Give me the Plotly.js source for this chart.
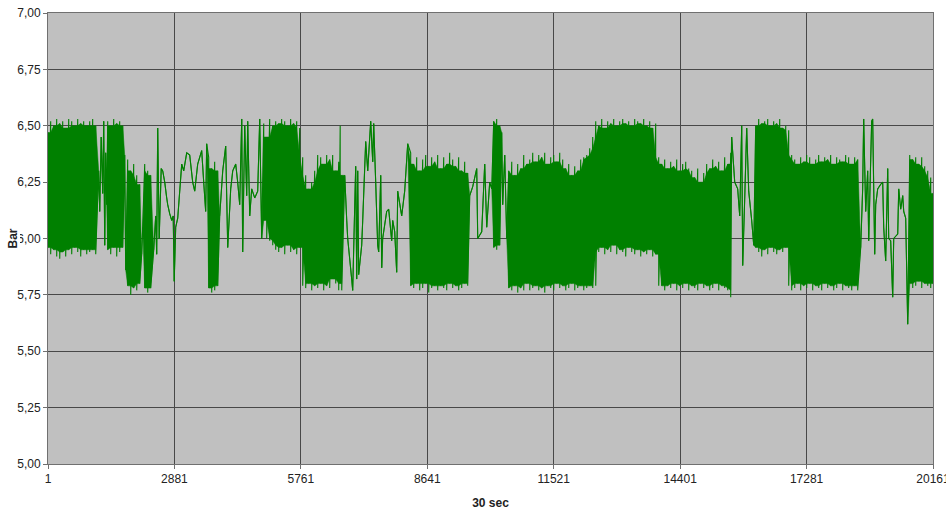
<!DOCTYPE html>
<html>
<head>
<meta charset="utf-8">
<script src="https://cdn.plot.ly/plotly-3.0.1.min.js"></script>
<style>html,body{margin:0;padding:0;background:#fff;}#chart{width:946px;height:514px;}</style>
</head>
<body>
<div id="chart"></div>
<script>
// Dense stretches: per-column maximum and minimum pressure (Bar)
const denseSample = [
  1,62,131,199,268,336,404,473,541,609,678,746,814,883,951,1019,1088,
  1361,1429,1498,1566,1634,1703,
  1816,1885,1953,2022,2090,
  2204,2272,2340,
  3662,3730,3798,3867,
  4915,4983,5051,5120,5188,5256,5324,5393,5461,5529,5598,5666,5735,
  5803,5871,5940,6008,6076,6145,6213,6281,6350,6418,6486,6555,6623,6657,6692,
  8263,8331,8400,8468,8536,8605,8673,8741,8810,8878,8946,9015,9083,9151,9220,9288,9356,9425,9493,9561,
  10154,10222,10291,
  10496,10565,10633,10701,10770,10838,10906,10975,11043,11111,11180,11248,11316,11385,11453,11521,11590,11658,11726,11795,11863,11931,12000,12068,12136,12205,12273,12341,
  12410,12478,12546,12615,12683,12751,12820,12888,12956,13024,13093,13161,13229,13298,13366,13434,13503,13571,13639,13708,13776,13844,
  13913,13981,14049,14118,14186,14254,14323,14391,14459,14528,14596,14664,14733,14801,14869,14938,15006,15074,15143,15211,15279,15348,15416,15484,15553,
  16122,16191,16259,16327,16396,16464,16532,16601,16669,16737,16806,
  16874,16942,17011,17079,17147,17216,17284,17352,17420,17489,17557,17625,17694,17762,17830,17899,17967,18035,18104,18172,18240,18309,18377,18445,
  19631,19699,19767,19836,19904,19972,20041,20109,20161
];
const denseMax = [
  6.47,6.52,6.50,6.53,6.51,6.52,6.49,6.53,6.52,6.50,6.53,6.51,6.52,6.50,6.52,6.53,6.50,
  6.52,6.50,6.53,6.51,6.52,6.50,
  6.35,6.30,6.33,6.28,6.24,
  6.33,6.30,6.28,
  6.36,6.31,6.34,6.30,
  6.51,6.45,6.53,6.50,6.52,6.51,6.53,6.52,6.50,6.53,6.51,6.52,6.49,
  6.36,6.28,6.22,6.25,6.30,6.37,6.36,6.33,6.37,6.35,6.37,6.30,6.34,6.50,6.28,
  6.38,6.33,6.36,6.30,6.35,6.37,6.32,6.36,6.34,6.37,6.31,6.36,6.33,6.38,6.35,6.32,6.36,6.30,6.34,6.29,
  6.52,6.53,6.50,
  6.30,6.34,6.28,6.33,6.31,6.37,6.33,6.35,6.38,6.34,6.37,6.36,6.38,6.33,6.36,6.37,6.34,6.38,6.35,6.31,6.33,6.28,6.32,6.30,6.35,6.36,6.37,6.40,
  6.45,6.52,6.50,6.53,6.49,6.52,6.51,6.53,6.50,6.52,6.53,6.51,6.52,6.50,6.53,6.52,6.51,6.53,6.50,6.52,6.49,6.51,
  6.36,6.33,6.35,6.31,6.34,6.32,6.35,6.30,6.33,6.34,6.31,6.30,6.27,6.31,6.25,6.29,6.33,6.31,6.35,6.32,6.34,6.30,6.36,6.33,6.38,
  6.50,6.53,6.51,6.52,6.53,6.50,6.52,6.51,6.53,6.49,6.50,
  6.48,6.37,6.35,6.33,6.36,6.34,6.37,6.36,6.33,6.35,6.37,6.34,6.36,6.35,6.37,6.33,6.36,6.35,6.34,6.37,6.36,6.33,6.36,6.35,
  6.37,6.35,6.36,6.33,6.36,6.32,6.30,6.27,6.20
];
const denseMin = [
  5.96,5.93,5.95,5.92,5.91,5.94,5.92,5.95,5.93,5.96,5.94,5.92,5.95,5.93,5.94,5.95,5.93,
  5.95,5.93,5.96,5.92,5.94,5.96,
  5.79,5.75,5.78,5.77,5.80,
  5.78,5.76,5.78,
  5.78,5.76,5.77,5.79,
  6.08,6.00,5.99,5.97,5.95,5.94,5.96,5.93,5.97,5.94,5.95,5.93,5.96,
  5.79,5.78,5.80,5.77,5.79,5.78,5.80,5.77,5.79,5.78,5.82,5.80,5.77,5.80,5.77,
  5.79,5.78,5.80,5.77,5.78,5.80,5.76,5.78,5.79,5.77,5.79,5.78,5.77,5.80,5.78,5.79,5.77,5.78,5.80,5.79,
  5.96,5.95,5.97,
  5.78,5.77,5.79,5.76,5.78,5.77,5.80,5.77,5.78,5.79,5.77,5.78,5.76,5.79,5.78,5.77,5.80,5.78,5.79,5.77,5.78,5.80,5.77,5.78,5.79,5.77,5.78,5.79,
  5.78,5.79,5.94,5.96,5.93,5.95,5.94,5.97,5.93,5.95,5.94,5.92,5.96,5.94,5.93,5.95,5.92,5.94,5.93,5.95,5.92,5.93,
  5.79,5.79,5.77,5.79,5.78,5.80,5.77,5.79,5.78,5.80,5.77,5.79,5.78,5.77,5.80,5.78,5.79,5.77,5.78,5.80,5.77,5.79,5.78,5.77,5.74,
  5.96,5.94,5.92,5.95,5.93,5.96,5.94,5.93,5.95,5.94,5.96,
  5.79,5.77,5.78,5.80,5.77,5.79,5.78,5.80,5.77,5.79,5.78,5.77,5.80,5.78,5.79,5.77,5.78,5.80,5.77,5.79,5.78,5.77,5.79,5.77,
  5.80,5.78,5.79,5.81,5.78,5.80,5.79,5.78,5.80
];
// Sparse stretches: single readings (Bar)
const singleSample = [
  1156,1179,1213,1247,1270,1293,1315,1338,
  1748,1771,2135,2158,
  2409,2454,2477,2500,2534,2580,2614,2660,2705,2728,2773,2819,2853,2876,2910,2956,3047,3092,3161,3229,3297,3343,3411,3502,3548,3593,3616,
  3912,3981,4049,4095,4163,4209,4277,4322,4368,4414,4436,4482,4527,4550,4596,4641,4710,4778,4824,4869,
  6760,6806,6828,6919,6942,7010,7033,7056,7078,7147,7170,7238,7284,7352,7398,7420,7466,7511,7534,7580,7603,7625,7716,7762,7830,7853,7899,7944,7967,8058,8126,8195,
  9608,9676,9767,9790,9881,9949,9995,10063,10109,
  10336,10359,10405,10450,
  15575,15644,15712,15758,15803,15826,15872,15917,15963,16031,16077,
  18514,18559,18582,18628,18673,18696,18764,18787,18833,18856,18901,18969,19015,19038,19083,19129,19152,19197,19243,19266,19357,19380,19425,19471,19494,19539,19585
];
const singleBar = [
  6.30,6.12,6.45,6.20,6.52,5.97,6.38,6.15,
  6.37,5.86,5.93,6.05,
  5.95,6.10,5.93,6.49,6.00,6.31,6.30,6.25,6.18,6.15,6.11,6.08,6.10,5.81,6.05,6.09,6.33,6.30,6.38,6.37,6.25,6.21,6.33,6.39,6.25,6.12,6.42,
  6.10,6.30,6.41,5.96,6.22,6.30,6.33,6.25,6.15,6.53,5.94,6.50,6.19,6.52,6.10,6.22,6.18,6.21,6.53,6.00,
  6.28,6.08,6.00,5.82,5.77,6.32,5.82,6.30,5.84,5.97,6.08,6.43,6.30,6.52,6.34,6.51,6.25,5.97,5.94,6.28,5.87,6.00,6.12,6.13,5.99,6.08,6.03,5.85,6.21,6.10,6.21,6.42,
  6.19,6.23,6.31,6.00,6.03,6.33,6.05,6.25,6.22,
  6.47,6.15,6.37,6.00,
  6.45,6.25,6.22,6.10,6.50,5.88,6.18,6.49,6.21,6.08,5.97,
  5.96,6.22,6.53,6.12,6.30,5.99,6.52,6.53,5.93,6.15,6.22,6.24,6.25,6.05,5.90,6.31,6.00,5.99,5.74,6.00,6.02,6.22,6.13,6.19,6.12,6.09,5.62
];
const xTickVals = [1, 2881, 5761, 8641, 11521, 14401, 17281, 20161];
const xTickText = ['1', '2881', '5761', '8641', '11521', '14401', '17281', '20161'];
const yTickVals = [5, 5.25, 5.5, 5.75, 6, 6.25, 6.5, 6.75, 7];
const yTickText = ['5,00', '5,25', '5,50', '5,75', '6,00', '6,25', '6,50', '6,75', '7,00'];

// merge readings in sample order
const cols = [];
denseSample.forEach((t, i) => cols.push({t: t, hi: denseMax[i], lo: denseMin[i], dense: true}));
singleSample.forEach((t, i) => cols.push({t: t, hi: singleBar[i], lo: singleBar[i], dense: false}));
cols.sort((a, b) => a.t - b.t);

// line through readings: each dense column drawn from its max down to its min
const lx = [], ly = [];
cols.forEach(c => {
  if (!c.dense) { lx.push(c.t); ly.push(c.hi); return; }
  lx.push(c.t, c.t); ly.push(c.hi, c.lo);
});
// solid core of the dense stretches: envelope of neighbouring readings, so single peaks stay as spikes
const coreHi = cols.map((c, i) => {
  if (!c.dense) return c.hi;
  let v = c.hi;
  [i - 1, i + 1].forEach(j => { if (cols[j] && cols[j].dense) v = Math.min(v, cols[j].hi); });
  return v;
});
const coreLo = cols.map((c, i) => {
  if (!c.dense) return c.lo;
  let v = c.lo;
  [i - 1, i + 1].forEach(j => { if (cols[j] && cols[j].dense) v = Math.max(v, cols[j].lo); });
  return v;
});
const px = cols.map(c => c.t).concat(cols.map(c => c.t).reverse());
const py = coreHi.concat(coreLo.slice().reverse());

const green = '#008000';
const font = {family: '"Liberation Sans", Arial, sans-serif', size: 12, color: '#222'};
const traces = [
  {x: px, y: py, type: 'scatter', mode: 'lines', fill: 'toself', fillcolor: green,
   line: {width: 0.5, color: green, simplify: false}, hoverinfo: 'skip', showlegend: false},
  {x: lx, y: ly, type: 'scatter', mode: 'lines',
   line: {width: 1.1, color: green, simplify: false}, hoverinfo: 'skip', showlegend: false}
];
const layout = {
  width: 946, height: 514,
  margin: {l: 48, r: 13, t: 13, b: 50},
  paper_bgcolor: '#ffffff', plot_bgcolor: '#c0c0c0',
  font: font, showlegend: false, hovermode: false,
  xaxis: {
    range: [1, 20161], tickmode: 'array', tickvals: xTickVals, ticktext: xTickText,
    showgrid: true, gridcolor: '#484848', gridwidth: 1, zeroline: false,
    ticks: 'outside', ticklen: 4, tickcolor: '#707070',
    showline: true, linecolor: '#707070', linewidth: 1, mirror: true,
    tickfont: font, automargin: false, ticklabeloverflow: 'allow',
    title: {text: '<b>30 sec</b>', font: {family: font.family, size: 12, color: '#222'}, standoff: 13}
  },
  yaxis: {
    range: [5, 7], tickmode: 'array', tickvals: yTickVals, ticktext: yTickText,
    showgrid: true, gridcolor: '#484848', gridwidth: 1, zeroline: false,
    ticks: 'outside', ticklen: 4, tickcolor: '#707070',
    showline: true, linecolor: '#707070', linewidth: 1, mirror: true,
    tickfont: font, automargin: false
  },
  annotations: [{
    text: '<b>Bar</b>', xref: 'paper', yref: 'paper', x: 0, y: 0.5, xshift: -36,
    xanchor: 'center', yanchor: 'middle', textangle: -90, showarrow: false,
    bgcolor: '#ffffff', borderpad: 0,
    font: {family: font.family, size: 12, color: '#222'}
  }]
};
Plotly.newPlot('chart', traces, layout, {displayModeBar: false, staticPlot: true});
</script>
</body>
</html>
